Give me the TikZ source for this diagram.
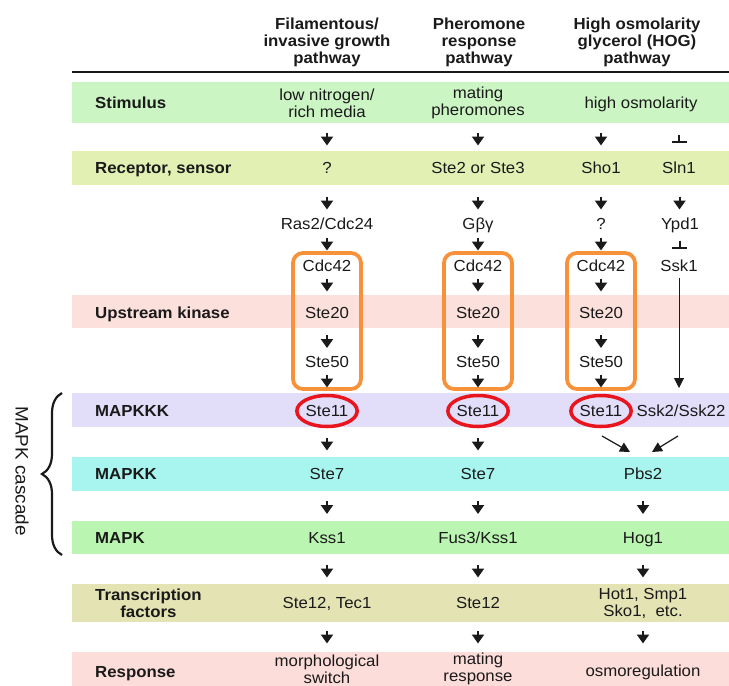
\documentclass[tikz,border=0pt]{standalone}
\usepackage{fontspec}
\setmainfont{Liberation Sans}[FakeStretch=1.05]
\usetikzlibrary{calc,arrows.meta,shapes.geometric,decorations.pathreplacing}
\definecolor{ink}{HTML}{1A1A1A}
\definecolor{stimC}{HTML}{CCF5C4}
\definecolor{recC}{HTML}{E2F0B4}
\definecolor{upC}{HTML}{FCE0DC}
\definecolor{kkkC}{HTML}{E2DDF9}
\definecolor{kkC}{HTML}{A8F4EE}
\definecolor{kC}{HTML}{BAF5B2}
\definecolor{tfC}{HTML}{E4E3B4}
\definecolor{respC}{HTML}{FCDDD9}
\definecolor{boxC}{HTML}{F7923A}
\definecolor{ringC}{HTML}{E8141E}
\tikzset{
  txt/.style={font=\fontsize{16}{17}\selectfont, align=center, inner sep=0pt, text=ink},
  one/.style={txt, text height=11.5pt, text depth=0pt},
  lab/.style={one, font=\fontsize{16}{17}\selectfont\bfseries, anchor=west},
  ring/.style={one, ellipse, draw=ringC, line width=3.5pt, minimum width=60pt, minimum height=31pt},
  obox/.style={draw=boxC, line width=3.8pt, rounded corners=10pt},
  % short arrow sitting in the gap between two rows
  dn/.style={draw=ink, line width=2pt, -{Triangle[width=12pt,length=9pt]},
    to path={($(\tikztostart)!.5!(\tikztotarget)+(0,#1-6.5)$) -- ($(\tikztostart)!.5!(\tikztotarget)+(0,#1+6.5)$)}},
  dn/.default=0,
  inh/.style={draw=ink, line width=2pt, -{Bar[width=15pt,line width=2pt]},
    to path={($(\tikztostart)!.5!(\tikztotarget)+(0,#1-4.5)$) -- ($(\tikztostart)!.5!(\tikztotarget)+(0,#1+4)$)}},
  inh/.default=0,
  thinarr/.style={draw=ink, line width=1.2pt, -{Triangle[width=10pt,length=10pt]}}
}
\begin{document}
\begin{tikzpicture}[x=1pt,y=-1pt]
    \useasboundingbox (0,0) rectangle (729,686);
    % coloured bands
    \foreach \ya/\yb/\col in {82/123/stimC,151/185/recC,295/328/upC,393/427/kkkC,457/491/kkC,521/554/kC,584/622/tfC,652/686/respC}{
        \fill[\col] (72,\ya) rectangle (729,\yb);
    }
    \draw[line width=2pt,ink] (72,72) -- (729,72);

    % headers
    \node[txt,font=\fontsize{16}{17}\selectfont\bfseries] (h1) at (327,42) {Filamentous/\\invasive growth\\pathway};
    \node[txt,font=\fontsize{16}{17}\selectfont\bfseries] (h2) at (479,42) {Pheromone\\response\\pathway};
    \node[txt,font=\fontsize{16}{17}\selectfont\bfseries] (h3) at (637,42) {High osmolarity\\glycerol (HOG)\\pathway};

    % row labels
    \node[lab] (lstim) at (95,103) {Stimulus};
    \node[lab] (lrec) at (95,168) {Receptor, sensor};
    \node[lab] (lup) at (95,313) {Upstream kinase};
    \node[lab] (lkkk) at (95,411) {MAPKKK};
    \node[lab] (lkk) at (95,474) {MAPKK};
    \node[lab] (lk) at (95,538) {MAPK};
    \node[txt,font=\fontsize{16}{17}\selectfont\bfseries,anchor=west] (ltf) at (95,603) {Transcription\\factors};
    \node[lab] (lresp) at (95,672) {Response};

    % filamentous / pheromone columns
    \node[txt] (s1) at (327,103) {low nitrogen/\\rich media};
    \node[txt] (s2) at (478,103) {mating\\pheromones};
    \node[one] (r1) at (327,168) {?};
    \node[one] (r2) at (478,168) {Ste2 or Ste3};
    \node[one] (g1) at (327,224) {Ras2/Cdc24};
    \node[one] (g2) at (478,224) {Gβγ};
    \foreach \x[count=\i] in {327,478}{
        \node[one] (c\i) at (\x,266) {Cdc42};
        \node[one] (u\i) at (\x,313) {Ste20};
        \node[one] (f\i) at (\x,362) {Ste50};
        \node[ring] (k\i) at (\x,411) {Ste11};
        \node[one] (kk\i) at (\x,474) {Ste7};
    }
    \node[one] (m1) at (327,538) {Kss1};
    \node[one] (m2) at (478,538) {Fus3/Kss1};
    \node[one] (t1) at (327,603) {Ste12, Tec1};
    \node[one] (t2) at (478,603) {Ste12};
    \node[txt] (o1) at (327,669) {morphological\\switch};
    \node[txt] (o2) at (478,669) {mating\\response};

    % HOG column
    \node[one] (s3) at (641,103) {high osmolarity};
    \node[one] (r3) at (601,168) {Sho1};
    \node[one] (r4) at (679,168) {Sln1};
    \node[one] (g3) at (601,224) {?};
    \node[one] (g4) at (680,224) {Ypd1};
    \node[one] (c3) at (601,266) {Cdc42};
    \node[one] (c4) at (679,266) {Ssk1};
    \node[one] (u3) at (601,313) {Ste20};
    \node[one] (f3) at (601,362) {Ste50};
    \node[ring] (k3) at (601,411) {Ste11};
    \node[one] (k4) at (681,411) {Ssk2/Ssk22};
    \node[one] (kk3) at (643,474) {Pbs2};
    \node[one] (m3) at (643,538) {Hog1};
    \node[txt] (t3) at (643,603) {Hot1, Smp1\\Sko1,\ \ etc.};
    \node[one] (o3) at (643,671) {osmoregulation};

    % orange boxes round Cdc42 .. Ste50
    \foreach \i in {1,2,3}{
        \draw[obox] ($(c\i)+(-34,-13)$) rectangle ($(f\i)+(34,27)$);
    }

    % arrows
    \foreach \i in {1,2}{
        \foreach \a/\b/\o in {s/r/3.5,r/g/7,g/c/-1,c/u/-4.5,u/f/4,f/k/-5.5,k/kk/1.5,kk/m/1.5,m/t/0.5,t/o/1}{
            \draw[dn=\o] (\a\i) to (\b\i);
        }
    }
    \draw[dn=3.5] (s3 -| r3) to (r3);
    \foreach \a/\b/\o in {r3/g3/7,g3/c3/-1,c3/u3/-4.5,u3/f3/4,f3/k3/-5.5,kk3/m3/1.5,m3/t3/0.5,t3/o3/0,r4/g4/7}{
        \draw[dn=\o] (\a) to (\b);
    }
    \draw[inh=3.5] (s3 -| r4) to (r4);
    \draw[inh=0] (g4) to (c4);
    \draw[thinarr,line width=1pt,shorten <=6pt,shorten >=23pt] (c4) -- (c4 |- k4);
    \draw[thinarr] ([shift={(1,25)}]k3.center) -- ([shift={(-13,-22)}]kk3.center);
    \draw[thinarr] ([shift={(-3,25)}]k4.center) -- ([shift={(9,-22)}]kk3.center);

    % MAPK cascade brace
    \draw[ink,line width=2.2pt,decorate,decoration={brace,amplitude=20pt,aspect=0.5}] (62,555) -- (62,393);
    \node[txt,font=\fontsize{18}{20}\selectfont,rotate=-90] (casc) at (22,471) {MAPK cascade};
\end{tikzpicture}
\end{document}
